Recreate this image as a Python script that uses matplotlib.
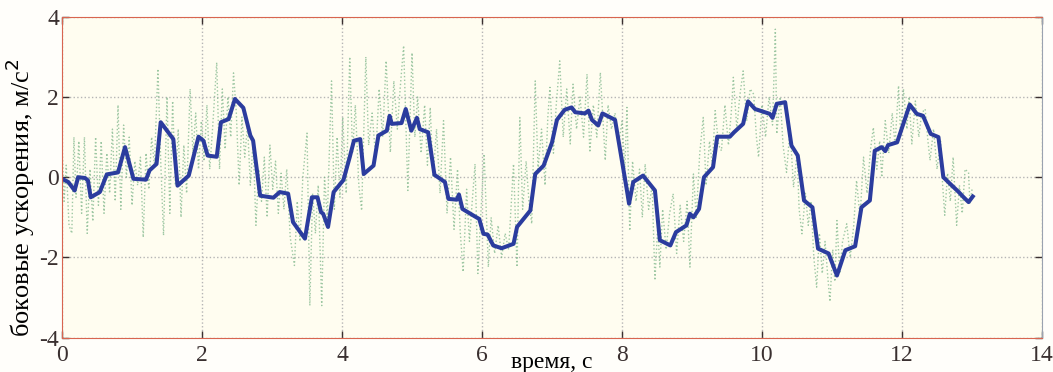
import numpy as np
import matplotlib
matplotlib.use("Agg")
import matplotlib.pyplot as plt

# Данные: отфильтрованный сигнал (синяя линия)
t_filt = [0, 0.09, 0.18, 0.23, 0.33, 0.37, 0.41, 0.54, 0.64, 0.80, 0.90, 1.02, 1.20, 1.25, 1.35,
          1.41, 1.50, 1.59, 1.65, 1.81, 1.95, 2.02, 2.08, 2.21, 2.27, 2.38, 2.47, 2.59, 2.69, 2.73,
          2.83, 3.02, 3.11, 3.23, 3.30, 3.47, 3.57, 3.65, 3.70, 3.73, 3.80, 3.88, 4.02, 4.11, 4.17,
          4.26, 4.31, 4.45, 4.52, 4.64, 4.68, 4.71, 4.85, 4.91, 4.99, 5.07, 5.11, 5.23, 5.32, 5.47,
          5.52, 5.64, 5.67, 5.72, 5.90, 5.96, 6.02, 6.08, 6.16, 6.28, 6.45, 6.50, 6.69, 6.76, 6.88,
          7.00, 7.07, 7.18, 7.28, 7.33, 7.47, 7.52, 7.57, 7.66, 7.72, 7.90, 8.07, 8.10, 8.16, 8.30,
          8.47, 8.54, 8.69, 8.77, 8.92, 8.97, 9.02, 9.10, 9.17, 9.30, 9.36, 9.54, 9.60, 9.73, 9.80,
          9.90, 10.11, 10.15, 10.21, 10.33, 10.42, 10.51, 10.60, 10.72, 10.80, 10.95, 11.07, 11.19,
          11.33, 11.42, 11.54, 11.61, 11.71, 11.76, 11.80, 11.93, 12.11, 12.21, 12.30, 12.41, 12.52,
          12.59, 12.69, 12.81, 12.88, 12.95, 13.01]
a_filt = [-0.04, -0.12, -0.33, 0.0, -0.02, -0.08, -0.5, -0.37, 0.07, 0.12, 0.75, -0.04, -0.06, 0.17, 0.33,
          1.37, 1.16, 0.95, -0.21, 0.04, 1.01, 0.91, 0.54, 0.51, 1.37, 1.45, 1.95, 1.73, 1.04, 0.91,
          -0.46, -0.51, -0.37, -0.41, -1.12, -1.53, -0.5, -0.5, -0.87, -0.91, -1.24, -0.37, -0.07, 0.5, 0.91,
          0.95, 0.08, 0.29, 1.04, 1.16, 1.53, 1.33, 1.35, 1.7, 1.16, 1.48, 1.2, 1.12, 0.06, -0.12,
          -0.54, -0.56, -0.43, -0.79, -0.98, -1.04, -1.41, -1.43, -1.7, -1.77, -1.66, -1.24, -0.83, 0.08, 0.29,
          0.87, 1.43, 1.68, 1.74, 1.62, 1.59, 1.66, 1.43, 1.29, 1.59, 1.43, -0.33, -0.66, -0.12, 0.04,
          -0.33, -1.57, -1.7, -1.37, -1.2, -0.91, -1.0, -0.79, 0.0, 0.25, 1.01, 1.01, 1.12, 1.33, 1.89,
          1.7, 1.58, 1.48, 1.83, 1.87, 0.79, 0.54, -0.58, -0.75, -1.78, -1.9, -2.45, -1.82,
          -1.72, -0.75, -0.58, 0.66, 0.75, 0.65, 0.8, 0.87, 1.81, 1.58, 1.53, 1.08, 1.0,
          0.0, -0.17, -0.37, -0.5, -0.62, -0.48]

# Исходный (зашумлённый) сигнал - пунктир
t_raw = [0.00, 0.03, 0.06, 0.10, 0.14, 0.17, 0.20, 0.24, 0.28, 0.32, 0.36, 0.40, 0.44, 0.48, 0.52,
         0.56, 0.60, 0.64, 0.68, 0.72, 0.76, 0.80, 0.84, 0.88, 0.92, 0.96, 1.00, 1.04, 1.08, 1.12,
         1.16, 1.20, 1.24, 1.28, 1.32, 1.37, 1.41, 1.45, 1.50, 1.54, 1.58, 1.62, 1.66, 1.70, 1.74,
         1.78, 1.83, 1.87, 1.91, 1.95, 1.99, 2.03, 2.07, 2.11, 2.15, 2.21, 2.25, 2.29, 2.33, 2.37,
         2.41, 2.45, 2.49, 2.53, 2.57, 2.61, 2.65, 2.69, 2.73, 2.77, 2.81, 2.85, 2.89, 2.93, 2.97,
         3.01, 3.05, 3.09, 3.13, 3.17, 3.21, 3.26, 3.32, 3.36, 3.40, 3.44, 3.50, 3.54, 3.58, 3.62,
         3.66, 3.71, 3.75, 3.79, 3.85, 3.89, 3.93, 3.97, 4.01, 4.06, 4.11, 4.15, 4.19, 4.24, 4.28,
         4.34, 4.38, 4.43, 4.48, 4.53, 4.58, 4.63, 4.69, 4.74, 4.79, 4.83, 4.88, 4.94, 5.00, 5.04,
         5.08, 5.13, 5.18, 5.22, 5.26, 5.30, 5.35, 5.40, 5.45, 5.50, 5.55, 5.60, 5.65, 5.69, 5.73,
         5.78, 5.82, 5.86, 5.90, 5.94, 5.98, 6.03, 6.09, 6.13, 6.18, 6.23, 6.28, 6.33, 6.38, 6.45,
         6.50, 6.54, 6.58, 6.63, 6.67, 6.71, 6.76, 6.80, 6.85, 6.90, 6.94, 6.97, 7.02, 7.06, 7.11,
         7.16, 7.21, 7.26, 7.30, 7.35, 7.40, 7.45, 7.50, 7.54, 7.59, 7.64, 7.69, 7.76, 7.80, 7.85,
         7.90, 7.95, 8.00, 8.04, 8.07, 8.11, 8.15, 8.20, 8.25, 8.29, 8.33, 8.38, 8.43, 8.47, 8.51,
         8.54, 8.58, 8.63, 8.68, 8.73, 8.78, 8.83, 8.88, 8.93, 8.97, 9.02, 9.06, 9.11, 9.16, 9.20,
         9.25, 9.29, 9.33, 9.38, 9.42, 9.47, 9.52, 9.56, 9.59, 9.64, 9.68, 9.73, 9.78, 9.83, 9.88,
         9.92, 9.95, 10.00, 10.05, 10.10, 10.15, 10.19, 10.21, 10.26, 10.30, 10.35, 10.40, 10.45, 10.50, 10.53,
         10.57, 10.62, 10.66, 10.70, 10.74, 10.78, 10.82, 10.86, 10.90, 10.94, 10.97, 11.01, 11.04, 11.07, 11.11,
         11.15, 11.21, 11.26, 11.31, 11.35, 11.40, 11.45, 11.50, 11.55, 11.59, 11.64, 11.68, 11.71, 11.76, 11.81,
         11.86, 11.90, 11.95, 11.98, 12.02, 12.07, 12.10, 12.14, 12.19, 12.24, 12.28, 12.33, 12.37, 12.40, 12.45,
         12.50, 12.55, 12.58, 12.61, 12.65, 12.69, 12.73, 12.78, 12.82, 12.86, 12.90, 12.95, 12.97, 13.00]
a_raw = [0.8, -0.6, 0.3, -1.2, -1.4, 1.0, -0.5, 0.9, -0.9, 1.0, -1.4, 0.2, -1.1, 1.0, -0.7,
         0.9, -0.9, 0.6, -0.4, 1.2, -0.6, 1.8, -0.8, 1.3, 0.0, 1.0, -0.7, 0.4, -0.2, 0.5,
         -1.5, 0.6, -0.3, 1.0, 0.3, 2.7, 0.4, -1.45, 2.0, -0.9, 1.9, -0.2, 1.2, -1.0, 0.8,
         -0.4, 2.2, 0.6, 1.6, 0.2, 1.4, 0.4, 1.8, 0.2, 1.2, 2.86, 0.2, 2.2, 0.7, 2.0,
         1.0, 2.6, 1.6, -0.2, 1.5, 0.5, 1.3, -0.2, 0.9, -1.2, 0.2, -0.6, 0.5, -1.0, 0.8,
         -0.3, 0.4, -0.9, 0.1, -0.8, 0.2, -1.5, -2.2, -0.6, -1.6, 0.0, 1.1, -3.2, -0.4, -1.4,
         -0.2, -3.2, 0.0, -1.0, 2.4, -0.8, 1.0, -0.5, 1.5, -0.4, 3.0, 0.6, 1.8, -0.2, -0.83,
         3.0, 0.8, 1.6, 0.5, 2.2, 1.0, 2.9, 0.62, 2.4, 1.2, 2.2, 3.28, -0.33, 3.1, 1.0,
         2.0, 0.6, 1.8, 0.3, 1.74, 0.0, 1.2, -0.4, 1.41, -0.9, 0.5, -1.3, 0.2, -1.4, -2.36,
         -0.3, -1.6, -0.6, 0.33, -2.4, -1.0, 0.58, -2.24, -1.0, -1.9, -1.2, -2.0, -1.4, -1.8, 0.33,
         -2.24, 1.49, -0.8, 0.4, -0.6, -1.16, 2.4, 0.2, 1.2, -0.2, 1.5, 2.24, 0.6, 1.8, 2.9,
         1.0, 2.2, 0.83, 2.32, 1.2, 2.0, 1.0, 2.57, 0.62, 1.8, 1.0, 2.61, 0.42, 1.8, 1.2,
         1.6, 0.8, 1.4, 0.2, 1.74, -1.33, 0.4, -0.6, 0.2, -1.0, 0.33, -0.8, -0.2, -2.57, -1.2,
         -2.24, -0.8, -1.8, -0.9, -0.41, -1.9, -0.7, -1.6, -0.6, -2.24, 0.08, -1.0, 0.6, 1.49, -0.2,
         0.9, 0.3, 1.66, 0.8, 0.66, 1.8, 0.8, 1.6, 2.49, 1.2, 2.0, 2.65, 1.4, 2.2, 2.07,
         1.0, 0.5, 1.8, 1.0, 2.0, 1.3, 3.69, 1.08, 2.0, 0.8, 0.12, 1.2, -0.25, 0.6, -0.8,
         -1.41, -0.4, -1.2, -0.6, -2.0, -2.74, -1.4, -2.4, -1.6, -2.5, -3.1, -1.8, -2.6, -1.08, -2.4,
         -1.6, -1.16, -2.0, -1.2, -0.08, -1.0, 0.5, -0.4, 0.7, 1.24, 0.2, 0.9, 0.0, 1.41, 0.6,
         1.6, 0.8, 2.28, 1.0, 2.2, 1.2, 2.0, 0.83, 1.9, 1.0, 1.6, 1.7, 0.9, 0.42, 1.2,
         0.2, 0.9, -0.2, -0.95, 0.1, -0.6, 0.5, -1.2, -0.2, -0.9, 0.2, 0.12, -0.66, -0.3]

x_ticks = [0, 2, 4, 6, 8, 10, 12, 14]
y_ticks = [-4, -2, 0, 2, 4]

plt.rcParams['font.family'] = ['Liberation Serif', 'DejaVu Serif']
plt.rcParams['axes.unicode_minus'] = False

fig = plt.figure(figsize=(10.53, 3.72), dpi=100, facecolor='#fffefa')
ax = fig.add_axes([0.0589, 0.0922, 0.9307, 0.8628])
ax.set_facecolor('#fffdf0')

# шумный сигнал
ax.plot(t_raw, a_raw, linestyle=':', color='#74b082', linewidth=1.0, alpha=0.7)
# фильтрованный сигнал
ax.plot(t_filt, a_filt, color='#2b3c9e', linewidth=2.9, solid_joinstyle='round')

ax.set_xlim(0, 14)
ax.set_ylim(-4, 4)
ax.set_xticks(x_ticks)
ax.set_yticks(y_ticks)
ax.grid(True, linestyle=':', color='#b5b5b5', linewidth=1.0)
ax.tick_params(direction='in', top=True, right=True, length=5, width=1.0,
               colors='#3a3030', labelsize=17, pad=2)
ax.tick_params(axis='x', pad=5)
for s in ['left', 'top', 'bottom']:
    ax.spines[s].set_color('#d8654f')
ax.spines['right'].set_color('#9aa2b0')

ax.set_xlabel('время, с', fontsize=17, labelpad=-10)
ax.set_ylabel('боковые ускорения, м/с$^2$', fontsize=19)
ax.yaxis.set_label_coords(-0.026, 0.435)

plt.savefig('out.png', dpi=100, facecolor=fig.get_facecolor())
